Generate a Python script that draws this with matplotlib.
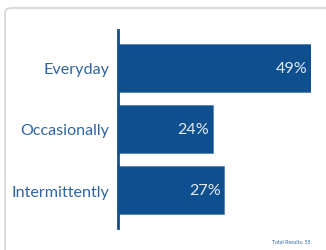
import matplotlib
matplotlib.use("Agg")
import matplotlib.pyplot as plt
from matplotlib.patches import FancyBboxPatch

categories = ["Everyday", "Occasionally", "Intermittently"]
values = [49, 24, 27]
labels = ["49%", "24%", "27%"]
total_text = "Total Results: 55"

W, H = 326, 251
fig = plt.figure(figsize=(W / 100, H / 100), dpi=100)
fig.patch.set_facecolor("white")

# card border
card = FancyBboxPatch((5 / W, -0.1), 1.2, (H - 9) / H + 0.1,
                      boxstyle="round,pad=0,rounding_size=0.02",
                      transform=fig.transFigure, fill=False,
                      edgecolor="#d4d4d4", linewidth=1.2)
fig.patches.append(card)

bar_color = "#0d4f8f"
text_color = "#2f65a0"
font = "Lato"

# axes in pixel coords: x 118..311, y 31..229 (top-down)
left, right = 118, 311
top, bottom = 31, 229
ax = fig.add_axes([left / W, 1 - bottom / H, (right - left) / W, (bottom - top) / H])
ax.set_xlim(0, max(values))
ax.set_ylim(2.62, -0.62)
y = list(range(len(categories)))
ax.barh(y, values, height=0.79, color=bar_color, edgecolor="#3a6fa6", linewidth=0.4)
for s in ["top", "right", "bottom"]:
    ax.spines[s].set_visible(False)
ax.spines["left"].set_color(bar_color)
ax.spines["left"].set_linewidth(2)
ax.set_xticks([])
ax.set_yticks(y)
ax.set_yticklabels(categories, fontsize=11.6, color=text_color, fontfamily=font)
ax.tick_params(axis="y", length=0, pad=6)
ax.patch.set_alpha(0)
for yi, v, lab in zip(y, values, labels):
    ax.text(v - 0.9, yi, lab, ha="right", va="center", color="#e4eaf2",
            fontsize=11.6, fontfamily=font)

fig.text(310 / W, 1 - 243 / H, total_text, ha="right", va="center",
         fontsize=3.8, color=text_color, fontfamily=font)

fig.savefig("out.png", dpi=100)
